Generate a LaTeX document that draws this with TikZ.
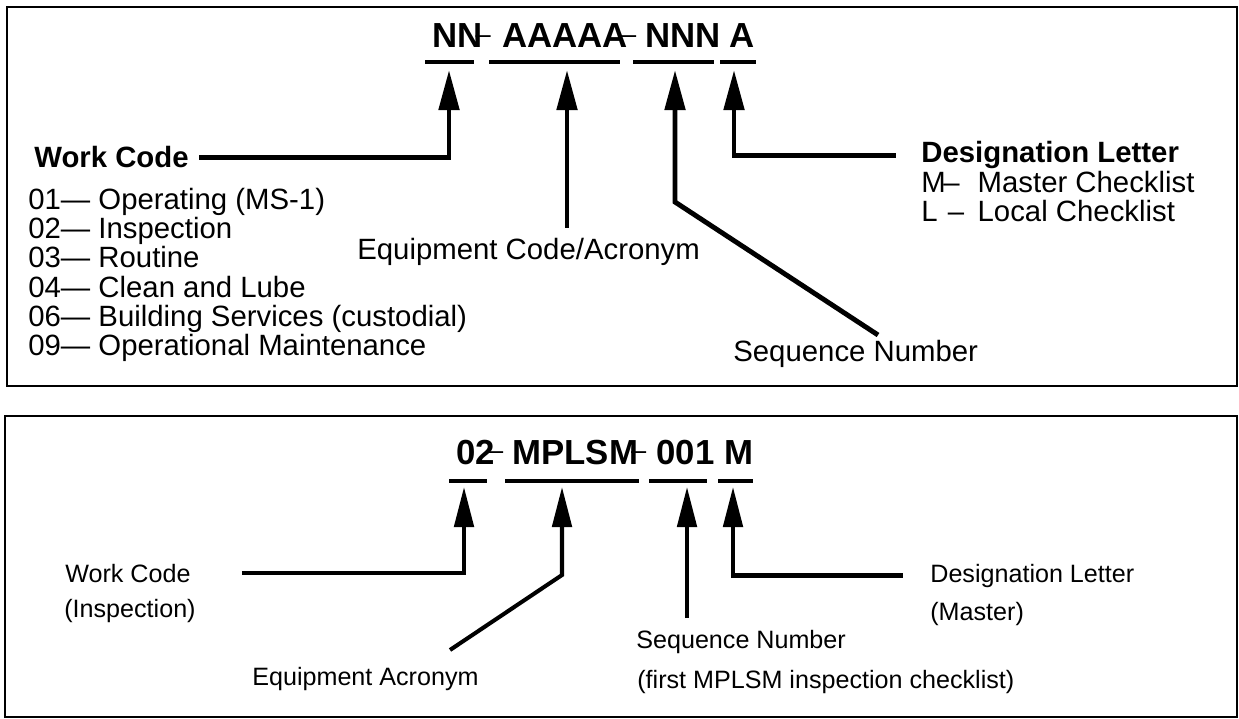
\documentclass[tikz,border=0pt]{standalone}
\usepackage{fontspec}
\setmainfont{Liberation Sans}
\usetikzlibrary{arrows.meta}
% thin raised dash between the code fields
\newcommand\codedash{\kern-.2em\raisebox{.14em}{\mdseries\fontsize{15.5}{15.5}\selectfont\textendash}}

\tikzset{
  lbl/.style={inner sep=0pt, anchor=base west, font=\fontsize{16.7}{16.7}\selectfont},
  lblb/.style={lbl, font=\fontsize{16.7}{16.7}\selectfont\bfseries},
  lbls/.style={inner sep=0pt, anchor=base west, font=\fontsize{14.3}{14.3}\selectfont},
  code/.style={inner sep=0pt, anchor=base west, font=\fontsize{19.8}{19.8}\selectfont\bfseries},
  uline/.style={line width=2.5pt},
  frame/.style={line width=1.3pt},
  arr/.style={line width=2.8pt, -{Triangle[width=11.4pt,length=22.8pt]}},
  arrs/.style={line width=2.3pt, -{Triangle[width=11pt,length=22.8pt]}},
}

\begin{document}
\begin{tikzpicture}[x=0.02cm,y=-0.02cm]
  \useasboundingbox (0,0) rectangle (1239,719);

  % Upper panel: general format
  \draw[frame] (7,7) rectangle (1237,386);
  \node[code] (nn) at (432,48) {NN\codedash};
  \node[code] (aaaaa) at (502,48) {AAAAA\codedash};
  \node[code] (nnn) at (645,48) {NNN};
  \node[code] (aa) at (729,48) {A};
  \foreach \a/\b in {425/474, 489/620, 633/714, 720/756}
    \draw[uline] (\a,62) -- (\b,62);
  \coordinate (t1) at (449,70);
  \coordinate (t2) at (567,70);
  \coordinate (t3) at (675,70);
  \coordinate (t4) at (734,70);

  \node[lblb] (wcode) at (34,168) {Work Code};
  \foreach \c/\t [count=\i from 0] in {01/Operating (MS-1), 02/Inspection,
      03/Routine, 04/Clean and Lube, 06/Building Services (custodial),
      09/Operational Maintenance}
    \node[lbl] (wc\c) at (28,210+29*\i) {\c\textemdash\ \t};
  \node[lbl] (equip) at (357,259) {Equipment Code/Acronym};
  \node[lbl] (seq) at (733,361) {Sequence Number};
  \node[lblb] (desig) at (921,163) {Designation Letter};
  \node[lbl] (dm) at (921,193) {\makebox[1.92em][l]{M\kern-.08em\textendash}Master Checklist};
  \node[lbl] (dl) at (921,222) {\makebox[1.92em][l]{L\kern.35em\textendash}Local Checklist};

  \coordinate (e2) at (567,228);
  \coordinate (e3) at (878,335);
  \coordinate (k3) at (675,202);
  \draw[arr] ([xshift=5.7pt]wcode.east) -| (t1);
  \draw[arr] (e2) -- (t2);
  \draw[arr] (e3) -- (k3) -- (t3);
  \draw[arr] ([xshift=-14.5pt]desig.west) -| (t4);

  % Lower panel: example
  \draw[frame] (5,416) rectangle (1237,717);
  \node[code] (n02) at (456,464) {02\codedash};
  \node[code] (mplsm) at (512,464) {MPLSM\codedash};
  \node[code] (n001) at (656,464) {001};
  \node[code] (nm) at (724,464) {M};
  \foreach \a/\b in {449/487, 505/639, 649/707, 718/753}
    \draw[uline] (\a,481) -- (\b,481);
  \coordinate (b1) at (464,487);
  \coordinate (b2) at (562,487);
  \coordinate (b3) at (687,487);
  \coordinate (b4) at (733,487);

  \node[lbls] (bwc) at (65,582) {Work Code};
  \node[lbls] (bwci) at (64,617) {(Inspection)};
  \node[lbls] (bequip) at (252,685) {Equipment Acronym};
  \node[lbls] (bseq) at (636,648) {Sequence Number};
  \node[lbls] (bseqi) at (637,688) {(first MPLSM inspection checklist)};
  \node[lbls] (bdes) at (930,582) {Designation Letter};
  \node[lbls] (bdesm) at (930,620) {(Master)};

  \coordinate (be2) at (450,650);
  \coordinate (bk2) at (562,575);
  \coordinate (be3) at (687,618);
  \draw[arrs] ([xshift=29pt]bwc.east) -| (b1);
  \draw[arrs] (be2) -- (bk2) -- (b2);
  \draw[arrs] (be3) -- (b3);
  \draw[arrs] ([xshift=-15.4pt]bdes.west) -| (b4);
\end{tikzpicture}
\end{document}
